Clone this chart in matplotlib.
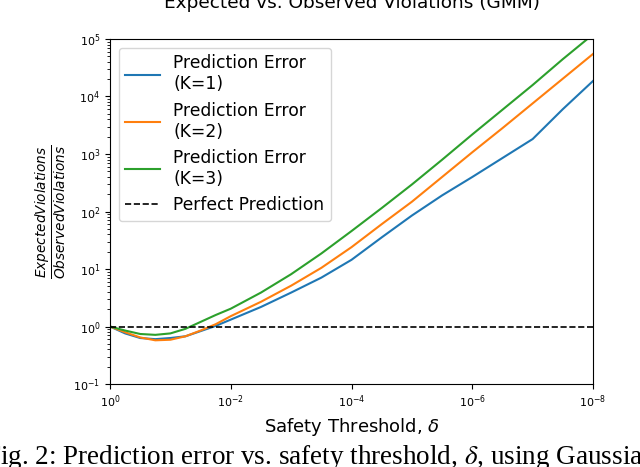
import matplotlib
matplotlib.use('Agg')
import matplotlib.pyplot as plt
import numpy as np

# safety threshold exponents (delta = 10**-e)
delta_exp = [0, 0.25, 0.5, 0.75, 1.0, 1.25, 1.5, 1.75, 2.0, 2.5, 3.0, 3.5,
             4.0, 4.5, 5.0, 5.5, 6.0, 6.5, 7.0, 7.5, 8.0]

# log10 of expected/observed violations
err_k1 = [0, -0.12, -0.20, -0.22, -0.20, -0.17, -0.08, 0.01, 0.12, 0.34, 0.59, 0.85,
          1.16, 1.55, 1.93, 2.28, 2.60, 2.93, 3.26, 3.78, 4.27]
err_k2 = [0, -0.10, -0.19, -0.24, -0.23, -0.17, -0.07, 0.04, 0.18, 0.43, 0.71, 1.02,
          1.38, 1.78, 2.17, 2.60, 3.03, 3.45, 3.88, 4.31, 4.74]
err_k3 = [0, -0.07, -0.13, -0.145, -0.12, -0.04, 0.08, 0.20, 0.31, 0.59, 0.91, 1.27,
          1.66, 2.06, 2.47, 2.90, 3.34, 3.77, 4.20, 4.65, 5.08]

delta = 10.0 ** (-np.array(delta_exp))

fig = plt.figure(figsize=(6.4, 4.67), dpi=100)
ax = fig.add_axes([0.1719, 0.1777, 0.7547, 0.7388])

ax.plot(delta, 10.0 ** np.array(err_k1), color='tab:blue', lw=1.5, label='Prediction Error\n(K=1)')
ax.plot(delta, 10.0 ** np.array(err_k2), color='tab:orange', lw=1.5, label='Prediction Error\n(K=2)')
ax.plot(delta, 10.0 ** np.array(err_k3), color='tab:green', lw=1.5, label='Prediction Error\n(K=3)')
ax.axhline(1.0, color='black', ls='--', lw=1.2, label='Perfect Prediction')

ax.set_xscale('log')
ax.set_yscale('log')
ax.set_xlim(1e0, 1e-8)
ax.set_ylim(1e-1, 1e5)
ax.set_xticks([1e0, 1e-2, 1e-4, 1e-6, 1e-8])
ax.xaxis.set_minor_locator(matplotlib.ticker.NullLocator())
ax.tick_params(labelsize=8)

ax.set_xlabel('Safety Threshold, $\\delta$', fontsize=13)
ax.set_ylabel('$\\frac{Expected Violations}{Observed Violations}$', fontsize=14)
ax.set_title('Expected vs. Observed Violations (GMM)', fontsize=13.3, pad=22)
ax.legend(loc='upper left', fontsize=12.3)

fig.text(-15 / 640, 1 - 464 / 467, 'Fig. 2: Prediction error vs. safety threshold, $\\delta$, using Gaussian mixture models',
         family='Liberation Serif', math_fontfamily='stix', fontsize=19.5, ha='left', va='baseline')

fig.savefig('out.png', dpi=100)
